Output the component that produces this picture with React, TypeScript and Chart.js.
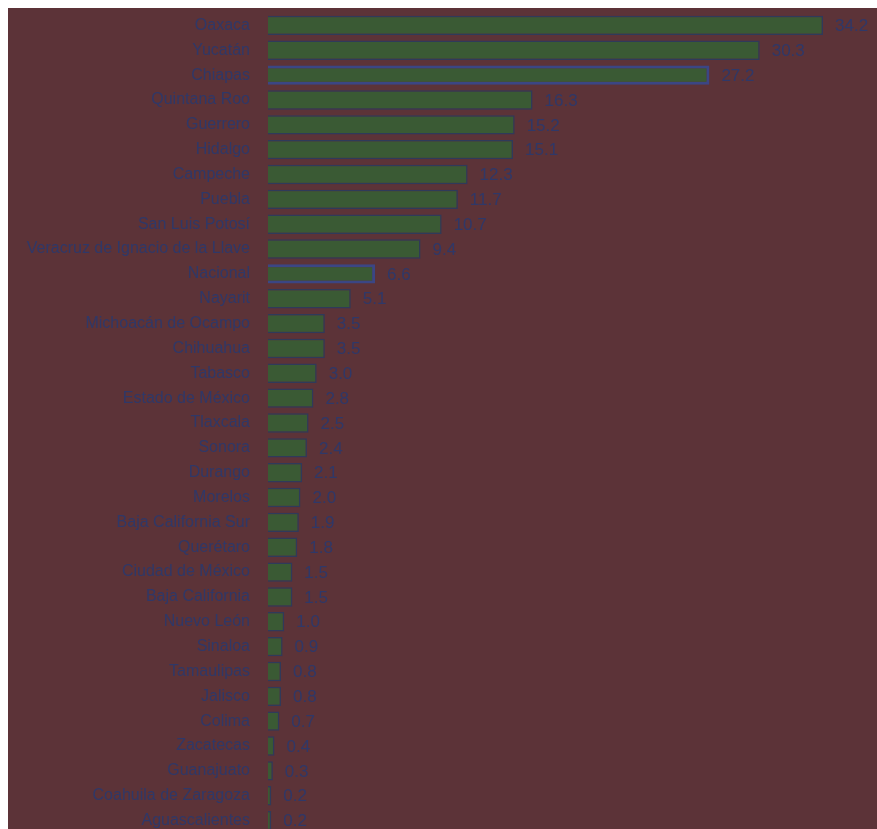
import React, { useEffect, useRef } from "react";
import { Chart, registerables } from "chart.js";

Chart.register(...registerables);

const states: string[] = [
  "Oaxaca",
  "Yucatán",
  "Chiapas",
  "Quintana Roo",
  "Guerrero",
  "Hidalgo",
  "Campeche",
  "Puebla",
  "San Luis Potosí",
  "Veracruz de Ignacio de la Llave",
  "Nacional",
  "Nayarit",
  "Michoacán de Ocampo",
  "Chihuahua",
  "Tabasco",
  "Estado de México",
  "Tlaxcala",
  "Sonora",
  "Durango",
  "Morelos",
  "Baja California Sur",
  "Querétaro",
  "Ciudad de México",
  "Baja California",
  "Nuevo León",
  "Sinaloa",
  "Tamaulipas",
  "Jalisco",
  "Colima",
  "Zacatecas",
  "Guanajuato",
  "Coahuila de Zaragoza",
  "Aguascalientes",
];

const values: number[] = [
  34.2, 30.3, 27.2, 16.3, 15.2, 15.1, 12.3, 11.7, 10.7, 9.4, 6.6, 5.1, 3.5, 3.5,
  3.0, 2.8, 2.5, 2.4, 2.1, 2.0, 1.9, 1.8, 1.5, 1.5, 1.0, 0.9, 0.8, 0.8, 0.7, 0.4,
  0.3, 0.2, 0.2,
];

const highlighted: string[] = ["Chiapas", "Nacional"];

const BG = "#5C3338";
const BAR = "#3A5A34";
const BAR_BORDER = "#2F3A5A";
const HI_BORDER = "#3B4684";
const TEXT = "#2F3868";
const FONT = "'Liberation Sans', Arial, sans-serif";

export default function App() {
  const ref = useRef<HTMLCanvasElement | null>(null);

  useEffect(() => {
    if (!ref.current) return;
    const bgPlugin = {
      id: "bg",
      beforeDraw(chart: any) {
        const { ctx, width, height } = chart;
        ctx.save();
        ctx.fillStyle = BG;
        ctx.fillRect(0, 0, width, height);
        ctx.restore();
      },
    };
    const valuePlugin = {
      id: "values",
      afterDatasetsDraw(chart: any) {
        const { ctx } = chart;
        const meta = chart.getDatasetMeta(0);
        ctx.save();
        ctx.fillStyle = TEXT;
        ctx.font = `17px ${FONT}`;
        ctx.textAlign = "left";
        ctx.textBaseline = "middle";
        meta.data.forEach((el: any, i: number) => {
          ctx.fillText(values[i].toFixed(1), el.x + 12, el.y + 1);
        });
        ctx.restore();
      },
    };
    const chart = new Chart(ref.current, {
      type: "bar",
      data: {
        labels: states,
        datasets: [
          {
            data: values,
            backgroundColor: BAR,
            borderColor: states.map((s) =>
              highlighted.includes(s) ? HI_BORDER : BAR_BORDER
            ),
            borderWidth: states.map((s) => (highlighted.includes(s) ? 3 : 1.5)),
            barPercentage: 0.78,
            categoryPercentage: 1,
          },
        ],
      },
      options: {
        indexAxis: "y",
        animation: false,
        responsive: false,
        devicePixelRatio: 1,
        layout: { padding: { top: 5, bottom: 5, left: 0, right: 54 } },
        plugins: {
          legend: { display: false },
          tooltip: { enabled: false },
          title: { display: false },
        },
        scales: {
          x: { display: false, min: 0, max: 34.2 },
          y: {
            grid: { display: false, drawTicks: false },
            border: { display: false },
            ticks: {
              color: TEXT,
              font: { size: 16, family: FONT },
              padding: 18,
              autoSkip: false,
            },
            afterFit(scale: any) {
              scale.width = 260;
              scale.paddingTop = 0;
              scale.paddingBottom = 0;
            },
          },
        },
      },
      plugins: [bgPlugin, valuePlugin],
    });
    return () => chart.destroy();
  }, []);

  return (
    <div
      style={{
        position: "absolute",
        left: 8,
        top: 8,
        width: 869,
        height: 821,
        overflow: "hidden",
        background: BG,
      }}
    >
      <canvas
        ref={ref}
        width={869}
        height={830}
        style={{ width: 869, height: 830, display: "block" }}
      />
    </div>
  );
}
